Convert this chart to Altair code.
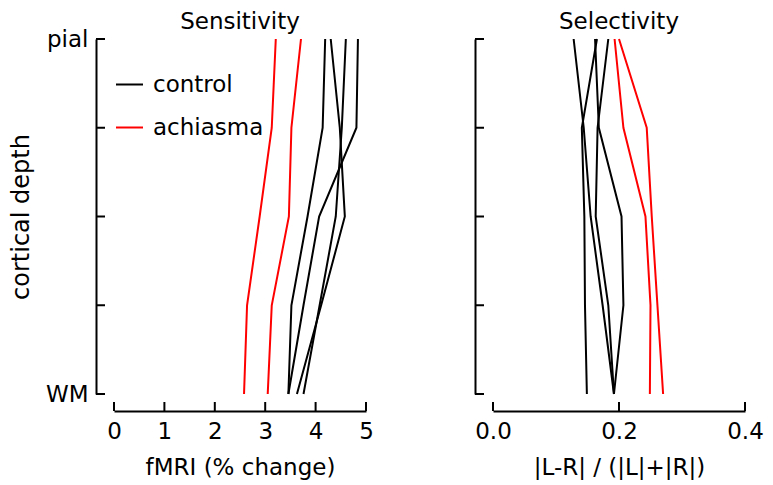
import altair as alt
import pandas as pd

# ---------------- data ----------------
groups = ["control", "achiasma"]
colors = ["black", "red"]
depth = [1.0, 0.75, 0.5, 0.25, 0.0]          # pial -> WM
depth_ticks = [0.0, 0.25, 0.5, 0.75, 1.0]

sens_control = [
    [4.19, 4.14, 3.84, 3.52, 3.46],
    [4.84, 4.81, 4.07, 3.76, 3.46],
    [4.30, 4.48, 4.58, 4.11, 3.63],
    [4.60, 4.52, 4.40, 4.08, 3.76],
]
sens_achiasma = [
    [3.21, 3.13, 2.89, 2.64, 2.58],
    [3.71, 3.52, 3.47, 3.13, 3.05],
]
sel_control = [
    [0.165, 0.141, 0.145, 0.146, 0.149],
    [0.128, 0.144, 0.155, 0.174, 0.192],
    [0.162, 0.168, 0.204, 0.207, 0.192],
    [0.183, 0.166, 0.163, 0.183, 0.192],
]
sel_achiasma = [
    [0.193, 0.207, 0.242, 0.250, 0.249],
    [0.200, 0.244, 0.252, 0.261, 0.270],
]
sens_xticks = [0, 1, 2, 3, 4, 5]
sel_xticks = [0.0, 0.2, 0.4]


def long_df(control, achiasma):
    rows = []
    for gname, series in (("control", control), ("achiasma", achiasma)):
        for i, s in enumerate(series):
            for d, v in zip(depth, s):
                rows.append({"subject": f"{gname}{i}", "group": gname,
                             "depth": d, "value": v})
    return pd.DataFrame(rows)


FONT = "DejaVu Sans"
FS = 23
W1, W2, H = 252, 252, 355
XOFF, YOFF = 17, 18
TICK = 9


def panel(df, xticks, xdom, xtitle, title, fmt, first, width):
    yenc = alt.Y(
        "depth:Q",
        scale=alt.Scale(domain=[0, 1], nice=False),
        axis=alt.Axis(
            values=depth_ticks,
            labelExpr="datum.value == 1 ? 'pial' : (datum.value == 0 ? 'WM' : '')" if first else "''",
            title="cortical depth" if first else None,
            titleFontSize=24, labelFlush=False, labelOverlap=False,
            offset=YOFF, ticks=False, tickSize=0, labelPadding=8,
            titlePadding=12, domainWidth=2, domainColor="black",
        ),
    )
    xenc = alt.X(
        "value:Q",
        scale=alt.Scale(domain=xdom, nice=False, zero=False),
        axis=alt.Axis(
            values=xticks, format=fmt, title=xtitle, offset=XOFF,
            labelFlush=False, labelOverlap=False,
            ticks=False, tickSize=0, labelPadding=9, titlePadding=13,
            domainWidth=2, domainColor="black",
        ),
    )
    lines = alt.Chart(df).mark_line(strokeWidth=2).encode(
        x=xenc,
        y=yenc,
        color=alt.Color(
            "group:N",
            scale=alt.Scale(domain=groups, range=colors),
            legend=alt.Legend(
                orient="none", legendX=1, legendY=31, title=None,
                symbolType="stroke", symbolSize=729, symbolStrokeWidth=2,
                labelFontSize=FS, labelFont=FONT, labelOffset=9,
                rowPadding=16, padding=0,
            ) if first else None,
        ),
        detail="subject:N",
        order=alt.Order("depth:Q"),
    )
    ytick_df = pd.DataFrame({"depth": depth_ticks})
    yt = alt.Chart(ytick_df).mark_rule(color="black", strokeWidth=2).encode(
        y=yenc, x=alt.value(-YOFF), x2=alt.value(-YOFF + TICK)
    )
    xtick_df = pd.DataFrame({"value": xticks})
    xt = alt.Chart(xtick_df).mark_rule(color="black", strokeWidth=2).encode(
        x=xenc, y=alt.value(H + XOFF), y2=alt.value(H + XOFF - TICK)
    )
    return alt.layer(lines, yt, xt).properties(
        width=width, height=H,
        title=alt.TitleParams(title, fontSize=FS, font=FONT, frame="group",
                              fontWeight="normal", offset=-6, color="black"),
    )


left = panel(long_df(sens_control, sens_achiasma), sens_xticks, [0, 5],
             "fMRI (% change)", "Sensitivity", "d", True, W1)
right = panel(long_df(sel_control, sel_achiasma), sel_xticks, [0, 0.4],
              "|L-R| / (|L|+|R|)", "Selectivity", ".1f", False, W2)

chart = (
    alt.hconcat(left, right, spacing=127, bounds="flush")
    .resolve_legend(color="independent")
    .properties(padding={"left": 1, "top": 3, "right": 0, "bottom": 2})
    .configure_view(stroke=None)
    .configure_axis(grid=False, labelFont=FONT, titleFont=FONT,
                    labelFontSize=FS, titleFontSize=FS, labelColor="black",
                    titleColor="black", titleFontWeight="normal")
    .configure_legend(labelColor="black")
)

chart.save("out.html", embed_options={"renderer": "svg", "actions": False})
